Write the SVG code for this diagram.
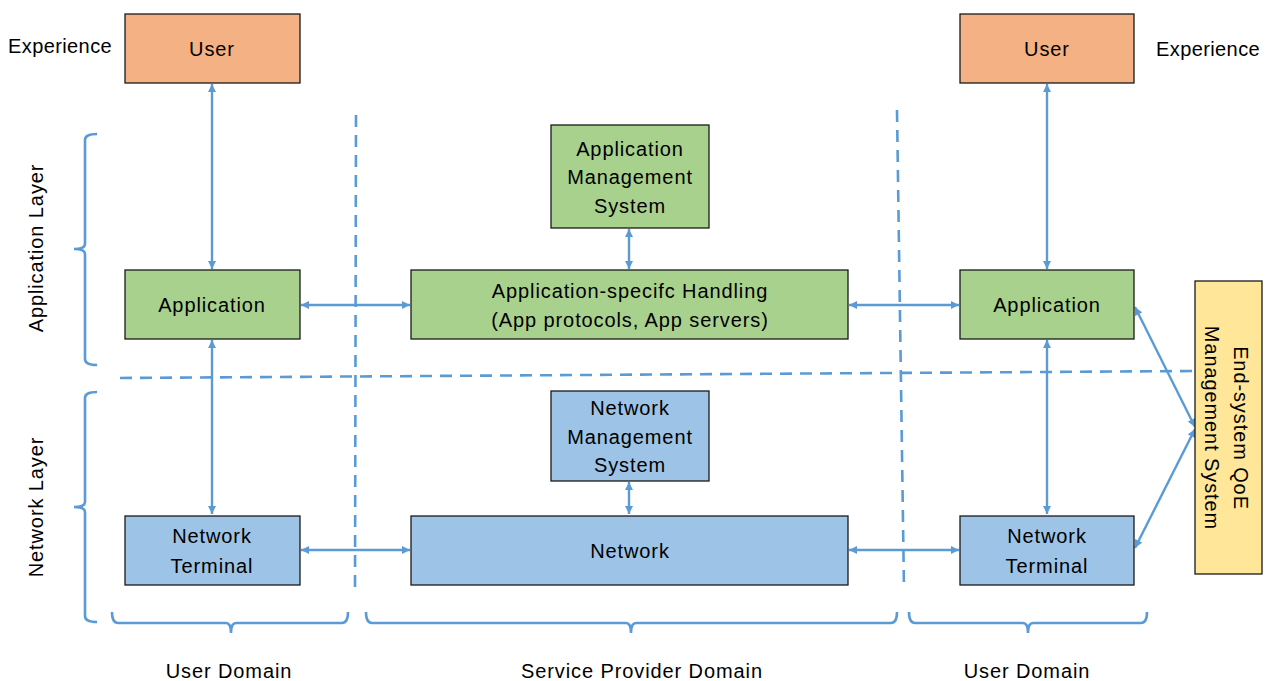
<svg xmlns="http://www.w3.org/2000/svg" width="1269" height="681" viewBox="0 0 1269 681">
  <style>
    text { font-family: "Liberation Sans", Arial, sans-serif; font-size: 20px; fill: #000; letter-spacing: 0.9px; }
    .mid { text-anchor: middle; }
    .tight { letter-spacing: 0.4px; }
    .box { stroke: #1a1a1a; stroke-width: 1.3; }
    .user { fill: #F4B183; }
    .app { fill: #A9D18E; }
    .net { fill: #9DC3E6; }
    .qoe { fill: #FFE699; }
    .link { stroke: #5B9BD5; stroke-width: 2.4; fill: none; marker-start: url(#head); marker-end: url(#head); }
    .dash { stroke: #5B9BD5; stroke-width: 2.6; fill: none; stroke-dasharray: 12 8; }
    .brace { stroke: #5B9BD5; stroke-width: 2.6; fill: none; }
  </style>
  <defs>
    <marker id="head" viewBox="0 0 10 10" refX="10" refY="5" markerWidth="9" markerHeight="8" markerUnits="userSpaceOnUse" orient="auto-start-reverse">
      <path d="M0,0 L10,5 L0,10 z" fill="#5B9BD5"/>
    </marker>
  </defs>
  <rect width="1269" height="681" fill="#fff"/>

  <!-- domain separators and layer separator -->
  <g id="separators">
    <path class="dash" d="M356,115 L355,590"/>
    <path class="dash" d="M897,110 L904,590"/>
    <path class="dash" d="M120,378 L1195,371"/>
  </g>

  <!-- braces -->
  <g id="braces">
    <path class="brace" d="M97,134 Q85,134 85,140 L85,244 Q85,249 74,249 Q85,249 85,254 L85,359 Q85,365 97,365"/>
    <path class="brace" d="M97,392 Q85,392 85,398 L85,502 Q85,507 74,507 Q85,507 85,512 L85,616 Q85,622 97,622"/>
    <path class="brace" d="M112,612 Q112,623 118,623 L226,623 Q231,623 231,633 Q231,623 236,623 L342,623 Q348,623 348,612"/>
    <path class="brace" d="M366,612 Q366,623 372,623 L626,623 Q631,623 631,633 Q631,623 636,623 L891,623 Q897,623 897,612"/>
    <path class="brace" d="M909,612 Q909,623 915,623 L1023,623 Q1028,623 1028,633 Q1028,623 1033,623 L1141,623 Q1147,623 1147,612"/>
  </g>

  <!-- connectors -->
  <g id="connectors">
    <line class="link" x1="212" y1="84" x2="212" y2="269"/>
    <line class="link" x1="212" y1="340" x2="212" y2="514"/>
    <line class="link" x1="1047" y1="84" x2="1047" y2="269"/>
    <line class="link" x1="1047" y1="340" x2="1047" y2="514"/>
    <line class="link" x1="301" y1="305" x2="410" y2="305"/>
    <line class="link" x1="849" y1="305" x2="959" y2="305"/>
    <line class="link" x1="301" y1="550" x2="410" y2="550"/>
    <line class="link" x1="849" y1="550" x2="959" y2="550"/>
    <line class="link" x1="629" y1="229" x2="629" y2="269"/>
    <line class="link" x1="629" y1="482" x2="629" y2="514"/>
    <line class="link" x1="1135" y1="307" x2="1195" y2="427"/>
    <line class="link" x1="1135" y1="548" x2="1195" y2="429"/>
  </g>

  <!-- side labels -->
  <g id="labels">
    <text class="tight" x="8" y="53">Experience</text>
    <text class="tight" x="1156" y="56">Experience</text>
    <text class="mid" transform="translate(43,248) rotate(-90)">Application Layer</text>
    <text class="mid" transform="translate(43,507) rotate(-90)">Network Layer</text>
    <text class="mid" x="229" y="678">User Domain</text>
    <text class="mid" x="642" y="678">Service Provider Domain</text>
    <text class="mid" x="1027" y="678">User Domain</text>
  </g>

  <g id="user-left">
    <rect class="box user" x="125" y="14" width="175" height="69"/>
    <text class="mid" x="212" y="56">User</text>
  </g>
  <g id="user-right">
    <rect class="box user" x="960" y="14" width="174" height="69"/>
    <text class="mid" x="1047" y="56">User</text>
  </g>

  <g id="app-mgmt">
    <rect class="box app" x="551" y="125" width="158" height="103"/>
    <text class="mid" x="630" y="156">Application</text>
    <text class="mid" x="630" y="184">Management</text>
    <text class="mid" x="630" y="213">System</text>
  </g>

  <g id="app-left">
    <rect class="box app" x="125" y="270" width="175" height="69"/>
    <text class="mid" x="212" y="312">Application</text>
  </g>
  <g id="app-handling">
    <rect class="box app" x="411" y="270" width="437" height="69"/>
    <text class="mid" x="630" y="298">Application-specifc Handling</text>
    <text class="mid" x="630" y="327">(App protocols, App servers)</text>
  </g>
  <g id="app-right">
    <rect class="box app" x="960" y="270" width="174" height="69"/>
    <text class="mid" x="1047" y="312">Application</text>
  </g>

  <g id="net-mgmt">
    <rect class="box net" x="551" y="391" width="158" height="90"/>
    <text class="mid" x="630" y="415">Network</text>
    <text class="mid" x="630" y="444">Management</text>
    <text class="mid" x="630" y="472">System</text>
  </g>

  <g id="terminal-left">
    <rect class="box net" x="125" y="516" width="175" height="69"/>
    <text class="mid" x="212" y="543">Network</text>
    <text class="mid" x="212" y="573">Terminal</text>
  </g>
  <g id="network">
    <rect class="box net" x="411" y="516" width="437" height="69"/>
    <text class="mid" x="630" y="558">Network</text>
  </g>
  <g id="terminal-right">
    <rect class="box net" x="960" y="516" width="174" height="69"/>
    <text class="mid" x="1047" y="543">Network</text>
    <text class="mid" x="1047" y="573">Terminal</text>
  </g>

  <g id="qoe-system">
    <rect class="box qoe" x="1195" y="281" width="67" height="293"/>
    <text class="mid" transform="translate(1234,428) rotate(90)">End-system QoE</text>
    <text class="mid" transform="translate(1205,428) rotate(90)">Management System</text>
  </g>
</svg>
